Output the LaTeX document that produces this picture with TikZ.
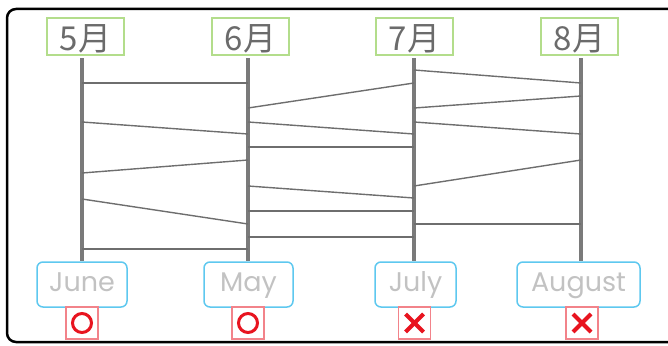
\documentclass[tikz,border=0pt]{standalone}
\usepackage{fontspec}
\setmainfont{Poppins}
\newfontfamily\cjk{Noto Sans CJK JP}
\definecolor{greenb}{HTML}{B3DD8B}
\definecolor{blueb}{HTML}{5EC8EF}
\definecolor{lbltxt}{HTML}{6B6B6B}
\definecolor{anstxt}{HTML}{C2C2C2}
\definecolor{linegray}{HTML}{7A7A7A}
\definecolor{runggray}{HTML}{6E6E6E}
\definecolor{markred}{HTML}{E8141F}
\definecolor{markb}{HTML}{F2838A}
\tikzset{
  monthbox/.style={draw=greenb, line width=1.3pt, minimum width=77pt, minimum height=37pt, inner sep=0pt, text height=27pt, text depth=0pt, text=lbltxt, font=\cjk\fontsize{33}{33}\selectfont},
  ansbox/.style={draw=blueb, line width=1.5pt, rounded corners=6pt, minimum height=45pt, inner sep=0pt, text height=20pt, text depth=7pt, text=anstxt, font=\fontsize{27}{27}\selectfont},
  markbox/.style={draw=markb, line width=1.5pt, minimum width=32pt, minimum height=32pt, inner sep=0pt},
  vline/.style={draw=linegray, line width=3.2pt},
  rung/.style={draw=runggray, line width=1.4pt},
}
\begin{document}
\begin{tikzpicture}[x=1pt,y=-1pt]
\useasboundingbox (0,0) rectangle (668,345);
\clip (0,0) rectangle (668,345);
\draw[line width=2.5pt, rounded corners=9pt] (7,9) rectangle (680,342);
% top labels
\node[monthbox] (m5) at (85.5,36.5) {5月};
\node[monthbox] (m6) at (250.5,36.5) {6月};
\node[monthbox] (m7) at (414.5,36.5) {7月};
\node[monthbox] (m8) at (579.5,36.5) {8月};
% bottom answers
\node[ansbox, minimum width=90pt] (a1) at (82,284.5) {June};
\node[ansbox, minimum width=89pt] (a2) at (248.5,284.5) {May};
\node[ansbox, minimum width=81pt] (a3) at (415.5,284.5) {July};
\node[ansbox, minimum width=123pt] (a4) at (578.5,284.5) {August};
% marks
\node[markbox] (k1) at (82,323) {};
\node[markbox] (k2) at (248,323) {};
\node[markbox] (k3) at (414.5,323) {};
\node[markbox] (k4) at (582,323) {};
\draw[markred, line width=3pt] (k1.center) circle (9.5pt);
\draw[markred, line width=3pt] (k2.center) circle (9.5pt);
\draw[markred, line width=4pt] ([shift={(-9,-9)}]k3.center) -- ([shift={(9,9)}]k3.center);
\draw[markred, line width=4pt] ([shift={(-9,9)}]k3.center) -- ([shift={(9,-9)}]k3.center);
\draw[markred, line width=4pt] ([shift={(-9,-9)}]k4.center) -- ([shift={(9,9)}]k4.center);
\draw[markred, line width=4pt] ([shift={(-9,9)}]k4.center) -- ([shift={(9,-9)}]k4.center);
% vertical lines
\coordinate (t5) at (82,58);
\coordinate (t6) at (248,58);
\coordinate (t7) at (414,58);
\coordinate (t8) at (581,58);
\draw[vline] (t5) -- (t5 |- a1.north);
\draw[vline] (t6) -- (t6 |- a2.north);
\draw[vline] (t7) -- (t7 |- a3.north);
\draw[vline] (t8) -- (t8 |- a4.north);
% rungs 5-6
\foreach \ya/\yb in {83/83, 122/134, 173/160, 199/224, 249/249}
  \draw[rung] ([yshift=-\ya+58]t5) -- ([yshift=-\yb+58]t6);
% rungs 6-7
\foreach \ya/\yb in {108/83, 122/134, 147/147, 186/198, 211/211, 237/237}
  \draw[rung] ([yshift=-\ya+58]t6) -- ([yshift=-\yb+58]t7);
% rungs 7-8
\foreach \ya/\yb in {70/83, 108/96, 122/134, 186/160, 224/224}
  \draw[rung] ([yshift=-\ya+58]t7) -- ([yshift=-\yb+58]t8);
\end{tikzpicture}
\end{document}
